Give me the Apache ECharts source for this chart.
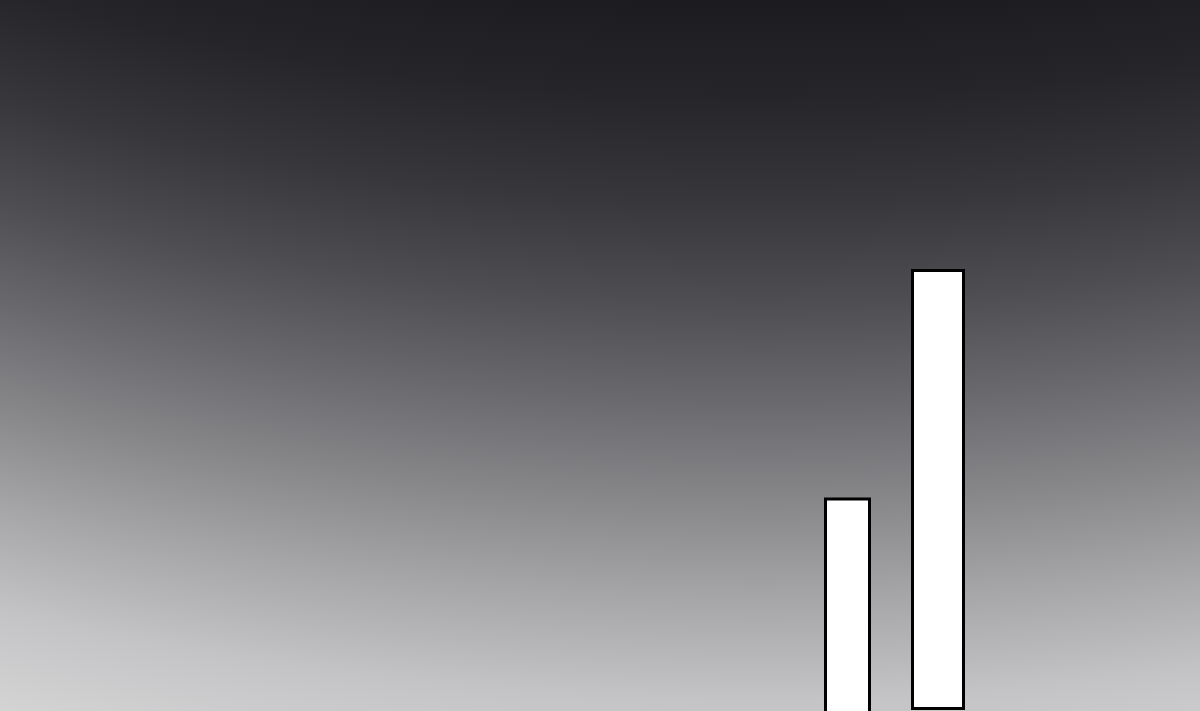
<!DOCTYPE html>
<html>
<head>
<meta charset="utf-8">
<style>
  html, body { margin: 0; padding: 0; }
  #chart { width: 1200px; height: 711px; }
</style>
<script src="https://cdn.jsdelivr.net/npm/echarts@6/dist/echarts.min.js"></script>
</head>
<body>
<div id="chart"></div>
<script>
// data (axes are hidden, so units are arbitrary)
var categories = ['A'];
var seriesNames = ['first', 'second'];
var firstValues = [67.9];   // sits on an axis whose zero lies below the frame
var secondValues = [99.4];

var chart = echarts.init(document.getElementById('chart'), null, { renderer: 'canvas' });

var option = {
  animation: false,
  // big radial gradient, centre far above the top edge
  backgroundColor: {
    type: 'radial',
    x: 760,
    y: -2642,
    r: 3500,
    global: true,
    colorStops: [
      { offset: 0, color: '#141318' },
      { offset: 0.755, color: '#1c1b20' },
      { offset: 0.783, color: '#262529' },
      { offset: 0.812, color: '#37363b' },
      { offset: 0.841, color: '#4e4d52' },
      { offset: 0.869, color: '#69696d' },
      { offset: 0.898, color: '#87878a' },
      { offset: 0.926, color: '#a6a6a8' },
      { offset: 0.955, color: '#c4c4c6' },
      { offset: 1, color: '#dedede' }
    ]
  },
  grid: {
    left: 589,
    right: 0,
    top: 0,
    bottom: 1
  },
  xAxis: {
    type: 'category',
    data: categories,
    show: false
  },
  yAxis: [
    { type: 'value', min: 0, max: 160, show: false },
    { type: 'value', min: 20, max: 180, show: false }
  ],
  series: [
    {
      name: seriesNames[0],
      type: 'bar',
      yAxisIndex: 1,
      clip: false,
      barWidth: 47,
      barGap: '85.1%',
      data: firstValues,
      itemStyle: {
        color: '#ffffff',
        borderColor: '#000000',
        borderWidth: 3
      }
    },
    {
      name: seriesNames[1],
      type: 'bar',
      yAxisIndex: 0,
      barWidth: 54,
      data: secondValues,
      itemStyle: {
        color: '#ffffff',
        borderColor: '#000000',
        borderWidth: 3
      }
    }
  ]
};

chart.setOption(option);
</script>
</body>
</html>
